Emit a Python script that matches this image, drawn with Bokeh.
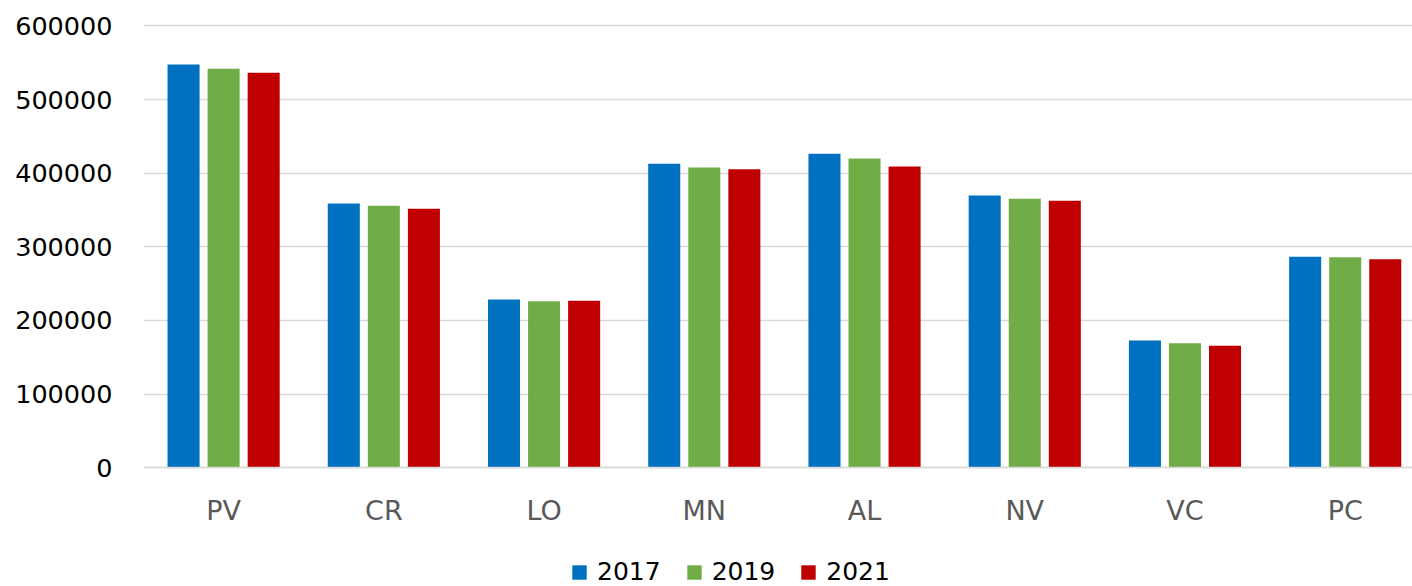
from bokeh.plotting import figure
from bokeh.models import ColumnDataSource, Range1d, FixedTicker, BasicTickFormatter, Legend, LegendItem
from bokeh.transform import dodge
from bokeh.embed import file_html
from bokeh.resources import INLINE

categories = ["PV", "CR", "LO", "MN", "AL", "NV", "VC", "PC"]
years = ["2017", "2019", "2021"]
v2017 = [547600, 358800, 228400, 412700, 426300, 369700, 172800, 286400]
v2019 = [541700, 355600, 226100, 407700, 419900, 365200, 169100, 285900]
v2021 = [536300, 351600, 226600, 405400, 409100, 362500, 165600, 283200]
y_ticks = [0, 100000, 200000, 300000, 400000, 500000, 600000]
colors = ["#0070C0", "#70AD47", "#C00000"]

src = ColumnDataSource(data=dict(
    x=list(range(len(categories))),
    y2017=v2017, y2019=v2019, y2021=v2021,
))

# the frame reaches the bottom of the canvas so the legend below the
# category labels stays inside it; the x axis sits at y = 0
p = figure(width=1412, height=586,
           x_range=Range1d(-0.5, 7.42), y_range=Range1d(-161350, 612800),
           output_backend="svg", toolbar_location=None,
           min_border_left=143, min_border_right=0,
           min_border_top=16, min_border_bottom=0)
p.outline_line_color = None
p.background_fill_color = "white"

renderers = []
for col, off, c in zip(["y2017", "y2019", "y2021"], [-0.25, 0.0, 0.25], colors):
    r = p.vbar(x=dodge("x", off), top=col, width=0.2, bottom=0,
               source=src, fill_color=c, line_color=None)
    renderers.append(r)

# grid
p.xgrid.grid_line_color = None
p.ygrid.grid_line_color = "#d9d9d9"
p.ygrid.grid_line_width = 1.5
p.ygrid.ticker = FixedTicker(ticks=y_ticks)

# y axis
p.yaxis.ticker = FixedTicker(ticks=y_ticks)
p.yaxis.formatter = BasicTickFormatter(use_scientific=False)
p.yaxis.axis_line_color = None
p.yaxis.major_tick_line_color = None
p.yaxis.minor_tick_line_color = None
p.yaxis.major_label_standoff = 25
p.yaxis.major_label_text_font = "DejaVu Sans"
p.yaxis.major_label_text_font_size = "25.5px"
p.yaxis.major_label_text_color = "#000000"

# x axis
p.xaxis.fixed_location = 0
p.xaxis.ticker = FixedTicker(ticks=list(range(len(categories))))
p.xaxis.major_label_overrides = {i: c for i, c in enumerate(categories)}
p.xaxis.axis_line_color = "#d9d9d9"
p.xaxis.axis_line_width = 1.5
p.xaxis.major_tick_line_color = None
p.xaxis.minor_tick_line_color = None
p.xaxis.major_label_standoff = 21
p.xaxis.major_label_text_font = "DejaVu Sans"
p.xaxis.major_label_text_font_size = "27px"
p.xaxis.major_label_text_color = "#595959"

legend = Legend(items=[LegendItem(label=y, renderers=[r]) for y, r in zip(years, renderers)],
                orientation="horizontal", location=(427, 0))
legend.label_text_font = "DejaVu Sans"
legend.label_text_font_size = "25px"
legend.label_text_color = "#000000"
legend.glyph_width = 18
legend.glyph_height = 18
legend.label_standoff = 9
legend.spacing = 24
legend.padding = 0
legend.margin = 0
legend.border_line_color = None
legend.background_fill_alpha = 0
p.add_layout(legend, "center")

open("out.html", "w").write(file_html(p, INLINE))
